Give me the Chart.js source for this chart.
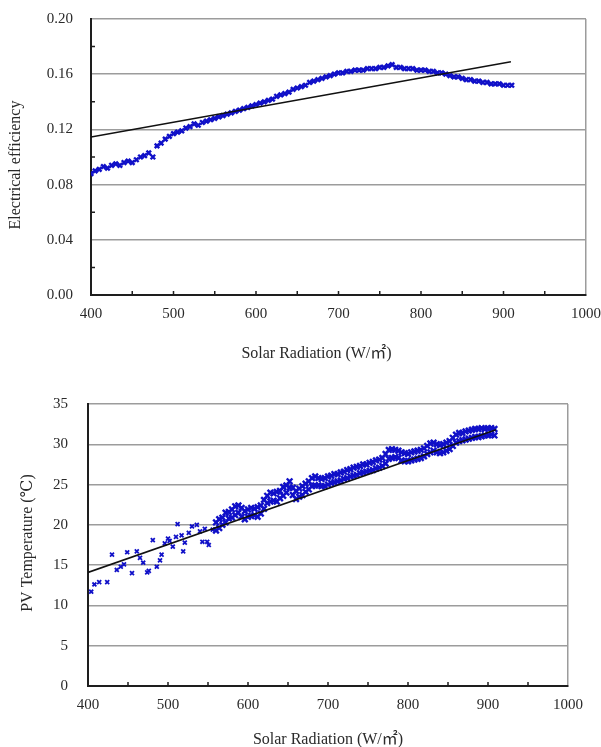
<!DOCTYPE html>
<html>
<head>
<meta charset="utf-8">
<script src="https://cdn.jsdelivr.net/npm/chart.js@4/dist/chart.umd.min.js"></script>
<style>
  html, body { margin: 0; padding: 0; background: #fff; }
  canvas { display: block; }
</style>
</head>
<body>
<canvas id="efficiency_canvas" width="601" height="370"></canvas>
<canvas id="temperature_canvas" width="601" height="377"></canvas>
<script>
// --- data ---

// top chart: electrical efficiency vs solar radiation
const eff_x = [400,405,410,415,420,425,430,435,440,445,450,455,460,465,470,475,480,485,490,495,
    500,505,510,515,520,525,530,535,540,545,550,555,560,565,570,575,580,585,590,595,
    600,605,610,615,620,625,630,635,640,645,650,655,660,665,670,675,680,685,690,695,
    700,705,710,715,720,725,730,735,740,745,750,755,760,765,770,775,780,785,790,795,
    800,805,810,815,820,825,830,835,840,845,850,855,860,865,870,875,880,885,890,895,
    900,905,910];
const eff_y = [0.088,0.090,0.091,0.093,0.092,0.094,0.095,0.094,0.096,0.097,0.096,0.098,0.100,0.101,0.103,0.100,0.108,0.110,0.113,0.115,
    0.117,0.118,0.119,0.121,0.122,0.124,0.123,0.125,0.126,0.127,0.128,0.129,0.130,0.131,0.132,0.133,0.134,0.135,0.136,0.137,
    0.138,0.139,0.140,0.141,0.142,0.144,0.145,0.146,0.147,0.149,0.150,0.151,0.152,0.154,0.155,0.156,0.157,0.158,0.159,0.160,
    0.161,0.161,0.162,0.162,0.163,0.163,0.163,0.164,0.164,0.164,0.165,0.165,0.166,0.167,0.165,0.165,0.164,0.164,0.164,0.163,
    0.163,0.163,0.162,0.162,0.161,0.161,0.160,0.159,0.158,0.158,0.157,0.156,0.156,0.155,0.155,0.154,0.154,0.153,0.153,0.153,
    0.152,0.152,0.152];
const eff_fit_x = [400, 909];
const eff_fit_y = [0.1145, 0.169];

const eff_y_ticks_minor = [0.02, 0.06, 0.10, 0.14, 0.18];
const radiation_tick_marks = [450, 500, 550, 600, 650, 700, 750, 800, 850, 900, 950];

// bottom chart: PV temperature vs solar radiation
const temp_x = [404,408,414,424,430,436,441,445,449,455,461,465,469,474,476,481,486,490,492,496,
    500,502,506,510,512,517,519,521,526,530,536,540,543,546,549,551,556];
const temp_y = [11.7,12.6,12.9,12.9,16.3,14.4,14.8,15.1,16.6,14.0,16.7,15.9,15.3,14.1,14.3,18.1,14.8,15.6,16.3,17.7,
    18.3,18.0,17.3,18.5,20.1,18.7,16.7,17.8,19.0,19.8,20.0,19.2,17.9,19.5,17.9,17.5,19.4];

const band_x = [560,564,568,572,576,580,584,588,592,596,600,604,608,612,616,620,624,628,632,636,
    640,644,648,652,656,660,664,668,672,676,680,684,688,692,696,700,704,708,712,716,
    720,724,728,732,736,740,744,748,752,756,760,764,768,772,776,780,784,788,792,796,
    800,804,808,812,816,820,824,828,832,836,840,844,848,852,856,860,864,868,872,876,
    880,884,888,892,896,900,904,908];
const band_y_upper = [20.3,20.7,20.9,21.5,21.6,21.9,22.3,22.4,22.1,21.7,
    21.9,22.1,22.0,22.2,22.4,23.1,23.6,24.0,23.9,24.1,
    24.2,24.7,24.9,25.4,24.6,24.2,24.5,24.8,25.1,25.4,
    25.8,26.0,25.8,25.7,25.8,26.0,26.1,26.3,26.3,26.5,
    26.6,26.8,26.9,27.1,27.2,27.3,27.5,27.5,27.7,27.8,
    28.0,28.1,28.3,28.8,29.3,29.4,29.3,29.2,29.0,28.9,
    28.8,29.0,29.1,29.2,29.3,29.5,29.8,30.1,30.2,30.0,
    29.9,30.0,30.2,30.4,30.8,31.2,31.4,31.4,31.6,31.7,
    31.8,31.9,31.9,32.0,31.9,32.0,32.0,31.9];
const band_y_lower = [19.3,19.6,20.0,20.3,20.8,20.9,21.2,21.5,21.0,20.7,
    21.0,21.1,21.2,21.0,21.4,22.0,22.7,22.9,23.0,22.9,
    23.3,23.6,24.0,24.6,23.7,23.2,23.5,23.7,24.1,24.4,
    24.8,24.9,24.9,24.8,24.8,25.0,25.2,25.3,25.4,25.5,
    25.7,25.8,26.0,26.1,26.2,26.4,26.5,26.6,26.7,26.8,
    27.0,27.1,27.3,27.6,28.2,28.3,28.4,28.3,28.0,27.9,
    27.9,28.0,28.1,28.2,28.3,28.5,28.8,29.0,29.2,29.0,
    28.9,29.0,29.2,29.4,29.8,30.2,30.4,30.5,30.6,30.7,
    30.8,30.9,30.9,31.0,31.1,31.1,31.2,31.1];
const temp_fit_x = [400, 910];
const temp_fit_y = [14.1, 31.8];

// --- styling ---
const blue = "#1010c8";
const grid_grey = "#9c9c9c";
const axis_dark = "#1e1e1e";
const text_color = "#2a2a2a";
const serif = "'Liberation Serif', 'DejaVu Serif', 'Noto Sans CJK SC', serif";

function to_points(xs, ys) {
    let pts = [];
    for (let i = 0; i < xs.length; i++) {
        pts.push({x: xs[i], y: ys[i]});
    }
    return pts;
}

// little tick marks pointing into the plot, like the original figure
const inner_ticks = {
    id: "inner_ticks",
    afterDraw(chart, args, opts) {
        const {ctx, chartArea, scales} = chart;
        ctx.save();
        ctx.strokeStyle = axis_dark;
        ctx.lineWidth = 1.5;
        ctx.beginPath();
        for (const v of (opts.x || [])) {
            const px = scales.x.getPixelForValue(v);
            ctx.moveTo(px, chartArea.bottom);
            ctx.lineTo(px, chartArea.bottom - 4);
        }
        for (const v of (opts.y || [])) {
            const py = scales.y.getPixelForValue(v);
            ctx.moveTo(chartArea.left, py);
            ctx.lineTo(chartArea.left + 4, py);
        }
        ctx.stroke();
        ctx.restore();
    }
};

function make_config(datasets, y_opts, layout) {
    return {
        type: 'scatter',
        data: {datasets: datasets},
        options: {
            responsive: false,
            animation: false,
            devicePixelRatio: 1,
            layout: {padding: {top: layout.top, right: layout.right, left: 0, bottom: 0}},
            plugins: {
                legend: {display: false},
                tooltip: {enabled: false},
                inner_ticks: {x: radiation_tick_marks, y: y_opts.minor}
            },
            scales: {
                x: {
                    type: 'linear',
                    min: 400,
                    max: 1000,
                    ticks: {
                        stepSize: 100,
                        autoSkip: false,
                        maxRotation: 0,
                        padding: layout.x_tick_pad,
                        color: text_color,
                        font: {family: serif, size: 15},
                        callback: function(value) { return String(value); }
                    },
                    grid: {
                        drawTicks: false,
                        tickLength: 0,
                        lineWidth: 1.5,
                        color: function(c) {
                            return (c.tick && c.tick.value === 1000) ? grid_grey : "rgba(0,0,0,0)";
                        }
                    },
                    border: {color: axis_dark, width: 2},
                    title: {
                        display: true,
                        // trailing spaces nudge the centred title left, as in the original
                        text: "Solar Radiation (W/㎡)" + layout.x_title_tail,
                        color: text_color,
                        font: {family: serif, size: 16},
                        padding: {top: 0, bottom: layout.x_title_pad}
                    },
                    afterFit: function(scale) {
                        scale.height = layout.x_height;
                        scale.paddingLeft = 0;
                        scale.paddingRight = 0;
                    }
                },
                y: {
                    type: 'linear',
                    min: 0,
                    max: y_opts.max,
                    ticks: {
                        stepSize: y_opts.step,
                        padding: layout.y_tick_pad,
                        color: text_color,
                        font: {family: serif, size: 15},
                        callback: y_opts.format
                    },
                    grid: {
                        drawTicks: false,
                        tickLength: 0,
                        lineWidth: 1.5,
                        color: grid_grey
                    },
                    border: {color: axis_dark, width: 2},
                    title: {
                        display: true,
                        text: y_opts.title,
                        color: text_color,
                        font: {family: serif, size: 16},
                        padding: {top: layout.y_title_pad, bottom: 0}
                    },
                    afterFit: function(scale) {
                        scale.width = layout.y_width;
                        scale.paddingTop = 0;
                        scale.paddingBottom = 0;
                    }
                }
            }
        },
        plugins: [inner_ticks]
    };
}

let efficiency_plot;
let temperature_plot;

function setup_efficiency_plot() {
    const datasets = [
        {
            type: 'line',
            data: to_points(eff_fit_x, eff_fit_y),
            borderColor: "#111",
            borderWidth: 1.6,
            pointRadius: 0,
            order: 0
        },
        {
            data: to_points(eff_x, eff_y),
            pointStyle: 'crossRot',
            pointRadius: 3.2,
            borderColor: blue,
            backgroundColor: blue,
            pointBorderWidth: 2.4,
            order: 1
        }
    ];
    const y_opts = {
        max: 0.2,
        step: 0.04,
        minor: eff_y_ticks_minor,
        title: "Electrical efficiency\u00a0\u00a0\u00a0\u00a0",
        format: function(value) { return value.toFixed(2); }
    };
    const layout = {top: 19, right: 15, y_width: 91, x_height: 75,
        x_tick_pad: 10, x_title_pad: 7, y_tick_pad: 18, y_title_pad: 6,
        x_title_tail: "\u00a0\u00a0\u00a0\u00a0\u00a0\u00a0\u00a0\u00a0\u00a0\u00a0\u00a0"};

    efficiency_plot = new Chart(
        document.getElementById('efficiency_canvas'),
        make_config(datasets, y_opts, layout)
    );
}

function setup_temperature_plot() {
    const datasets = [
        {
            type: 'line',
            data: to_points(temp_fit_x, temp_fit_y),
            borderColor: "#111",
            borderWidth: 1.6,
            pointRadius: 0,
            order: 0
        },
        {
            data: to_points(temp_x, temp_y),
            pointStyle: 'crossRot',
            pointRadius: 2.8,
            borderColor: blue,
            backgroundColor: blue,
            pointBorderWidth: 1.8,
            order: 1
        },
        {
            data: to_points(band_x, band_y_upper),
            pointStyle: 'crossRot',
            pointRadius: 4,
            borderColor: blue,
            backgroundColor: blue,
            pointBorderWidth: 2.4,
            order: 1
        },
        {
            data: to_points(band_x, band_y_lower),
            pointStyle: 'crossRot',
            pointRadius: 4,
            borderColor: blue,
            backgroundColor: blue,
            pointBorderWidth: 2.4,
            order: 1
        }
    ];
    const y_opts = {
        max: 35,
        step: 5,
        minor: [],
        title: "\u00a0PV Temperature (℃)",
        format: function(value) { return String(value); }
    };
    const layout = {top: 34, right: 33, y_width: 88, x_height: 61,
        x_tick_pad: 10, x_title_pad: -2, y_tick_pad: 20, y_title_pad: 18,
        x_title_tail: ""};

    temperature_plot = new Chart(
        document.getElementById('temperature_canvas'),
        make_config(datasets, y_opts, layout)
    );
}

setup_efficiency_plot();
setup_temperature_plot();
</script>
</body>
</html>
